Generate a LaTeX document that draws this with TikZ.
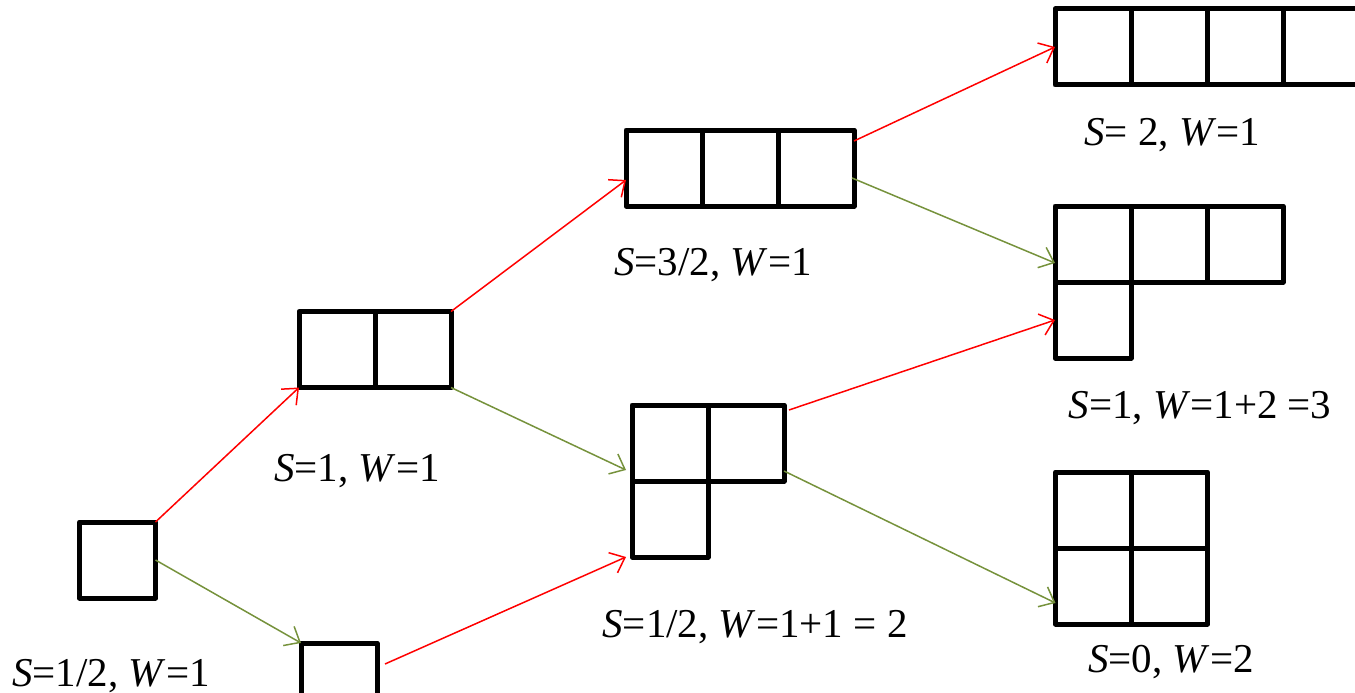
\documentclass[tikz,border=0pt]{standalone}
\usepackage{fontspec}
\setmainfont{Liberation Serif}
\usetikzlibrary{arrows.meta}
\definecolor{arrred}{RGB}{255,0,0}
\definecolor{arrgreen}{RGB}{118,146,60}
\tikzset{
  cell/.style={draw=black, line width=5pt, line join=round, minimum size=76pt, inner sep=0pt, outer sep=0pt},
  redarr/.style={draw=arrred, line width=1.5pt, -{Straight Barb[length=13pt,width=22pt,line width=1.5pt]}},
  greenarr/.style={draw=arrgreen, line width=1.5pt, -{Straight Barb[length=13pt,width=22pt,line width=1.5pt]}},
  lab/.style={anchor=base, inner sep=0pt, font=\fontsize{41}{49}\selectfont}
}
\begin{document}
\begin{tikzpicture}[x=1pt,y=-1pt]
\useasboundingbox (0,0) rectangle (1355,693);
% boxes
\node[cell] (A) at (117.5,560) {};
\node[cell] (B1) at (337,349.5) {};
\node[cell] (B2) at (413,349.5) {};
\node[cell] (C) at (339,681) {};
\node[cell] (D1) at (664,168) {};
\node[cell] (D2) at (740,168) {};
\node[cell] (D3) at (816,168) {};
\node[cell] (E1) at (670,443) {};
\node[cell] (E2) at (746,443) {};
\node[cell] (E3) at (670,519) {};
\node[cell] (F1) at (1093,47) {};
\node[cell] (F2) at (1169,47) {};
\node[cell] (F3) at (1245,47) {};
\node[cell] (F4) at (1321,47) {};
\node[cell] (G1) at (1093,244) {};
\node[cell] (G2) at (1169,244) {};
\node[cell] (G3) at (1245,244) {};
\node[cell] (G4) at (1093,320) {};
\node[cell] (H1) at (1093.5,510) {};
\node[cell] (H2) at (1169.5,510) {};
\node[cell] (H3) at (1093.5,586) {};
\node[cell] (H4) at (1169.5,586) {};
% connectors
\draw[redarr] (A.north east) -- (B1.south west);
\draw[greenarr] (A.east) -- (C.north west);
\draw[redarr] (B2.north east) -- ([yshift=-12pt]D1.west);
\draw[greenarr] (B2.south east) -- ([yshift=-27pt,xshift=-6pt]E1.west);
\draw[redarr] ([xshift=8pt,yshift=-21pt]C.north east) -- ([xshift=-6pt]E3.south west);
\draw[redarr] ([yshift=-11pt]D3.north east) -- (F1.west);
\draw[greenarr] ([xshift=-2pt,yshift=-10pt]D3.east) -- ([yshift=-19pt]G1.west);
\draw[redarr] ([xshift=5pt,yshift=-5pt]E2.north east) -- (G4.west);
\draw[greenarr] ([yshift=-28pt]E2.east) -- ([yshift=-17pt]H3.west);
% labels
\node[lab] (LA) at (111,686) {\textit{S}=1/2, \textit{W}=1};
\node[lab] (LB) at (357,481) {\textit{S}=1, \textit{W}=1};
\node[lab] (LD) at (713,275) {\textit{S}=3/2, \textit{W}=1};
\node[lab] (LE) at (755,637) {\textit{S}=1/2, \textit{W}=1+1 = 2};
\node[lab] (LF) at (1172,145) {\textit{S}= 2, \textit{W}=1};
\node[lab] (LG) at (1200,418) {\textit{S}=1, \textit{W}=1+2 =3};
\node[lab] (LH) at (1171,672) {\textit{S}=0, \textit{W}=2};
\end{tikzpicture}
\end{document}
